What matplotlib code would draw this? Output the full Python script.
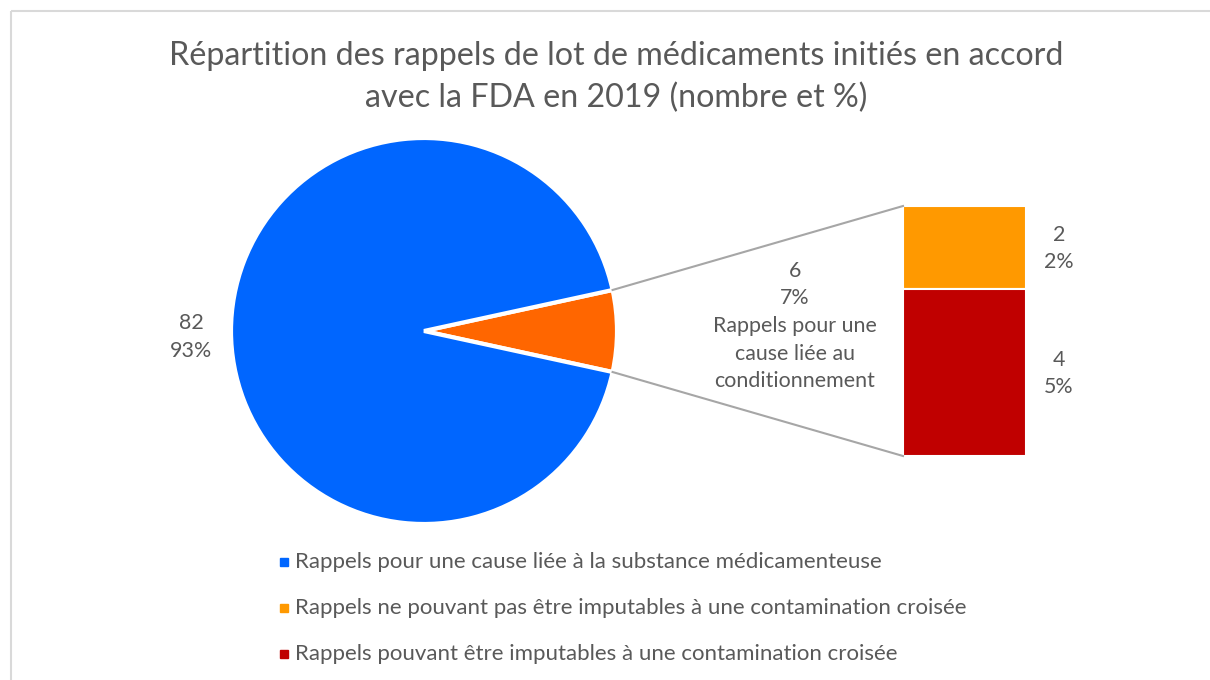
import matplotlib.pyplot as plt
import numpy as np
from matplotlib.patches import Rectangle

# data
pie_labels = ["Rappels pour une cause liée à la substance médicamenteuse",
              "Rappels pour une cause liée au conditionnement"]
pie_values = [82, 6]
sub_labels = ["Rappels ne pouvant pas être imputables à une contamination croisée",
              "Rappels pouvant être imputables à une contamination croisée"]
sub_values = [2, 4]
title = "Répartition des rappels de lot de médicaments initiés en accord\navec la FDA en 2019 (nombre et %)"

pie_colors = ["#0066FF", "#FF6600"]
sub_colors = ["#FF9900", "#C00000"]
txt = "#595959"
plt.rcParams['font.family'] = ['Lato', 'DejaVu Sans']

fig = plt.figure(figsize=(12.1, 6.8), dpi=100)
ax = fig.add_axes([0, 0, 1, 1])

total = sum(pie_values)
# the small slice is centred on the right side
half = pie_values[1] / total * 360 / 2
cx, cy, r = 424, 331, 193
ax.pie([pie_values[1], pie_values[0]], colors=[pie_colors[1], pie_colors[0]],
       startangle=-half, counterclock=True, center=(cx, cy), radius=r,
       wedgeprops=dict(edgecolor="white", linewidth=3))

# stacked bar of the small slice
bx, bw, btop, bh = 903, 123, 206, 250
scale = bh / sum(sub_values)
y0 = btop
bar_mid = []
for v, c in zip(sub_values, sub_colors):
    h = v * scale
    ax.bar(bx + bw / 2, h, width=bw, bottom=y0, color=c, edgecolor="white", linewidth=1.5)
    bar_mid.append(y0 + h / 2)
    y0 += h

# connector lines
a = np.radians(half)
ax.plot([cx + r * np.cos(a), bx], [cy - r * np.sin(a), btop], color="#A6A6A6", lw=1.5)
ax.plot([cx + r * np.cos(a), bx], [cy + r * np.sin(a), btop + bh], color="#A6A6A6", lw=1.5)

# labels
fs = 15.4
ax.text(191, 337, f"{pie_values[0]}\n{pie_values[0] / total:.0%}", ha="center", va="center",
        fontsize=fs, color=txt, linespacing=1.55)
ax.text(795, 326, f"{pie_values[1]}\n{pie_values[1] / total:.0%}\nRappels pour une\ncause liée au\nconditionnement",
        ha="center", va="center", fontsize=fs, color=txt, linespacing=1.48)
for v, m in zip(sub_values, bar_mid):
    ax.text(1059, m + 1, f"{v}\n{v / total:.0%}", ha="center", va="center",
            fontsize=fs, color=txt, linespacing=1.45)

ax.text(616, 77, title, ha="center", va="center", fontsize=23.2, color=txt, linespacing=1.45)

# legend
for i, (lab, c) in enumerate(zip([pie_labels[0]] + sub_labels, [pie_colors[0]] + sub_colors)):
    y = 562 + i * 46
    ax.add_patch(Rectangle((280, y - 4), 8, 8, color=c))
    ax.text(295, y, lab, ha="left", va="center", fontsize=16, color=txt)

# chart frame
ax.add_patch(Rectangle((11, 11), 1300, 800, fill=False, edgecolor="#D9D9D9", lw=1.5))

ax.set_xlim(0, 1210)
ax.set_ylim(680, 0)
ax.set_aspect("equal")
ax.axis("off")

fig.savefig("out.png", dpi=100)
